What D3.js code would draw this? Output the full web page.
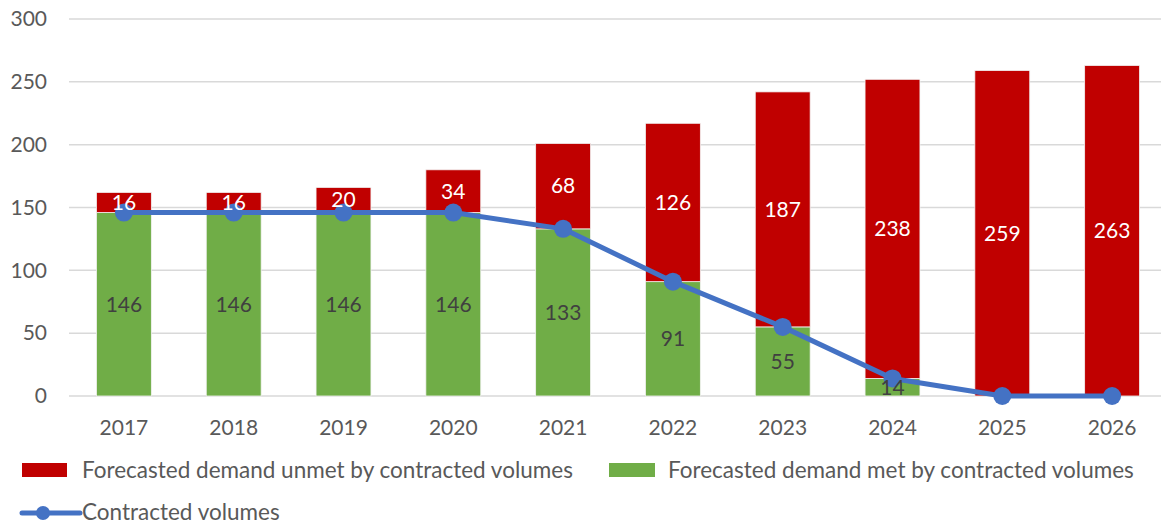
<!DOCTYPE html>
<html>
<head>
<meta charset="utf-8">
<script src="https://cdn.jsdelivr.net/npm/d3@7"></script>
<style>
  body { margin: 0; background: #fff; }
  svg { display: block; font-family: Lato, "Open Sans", sans-serif; }
</style>
</head>
<body>
<div id="chart"></div>
<script>
const years = ["2017", "2018", "2019", "2020", "2021", "2022", "2023", "2024", "2025", "2026"];
const demandMet = [146, 146, 146, 146, 133, 91, 55, 14, 0, 0];
const demandUnmet = [16, 16, 20, 34, 68, 126, 187, 238, 259, 263];
const contracted = [146, 146, 146, 146, 133, 91, 55, 14, 0, 0];
const yTicks = [0, 50, 100, 150, 200, 250, 300];

const width = 1161, height = 525;
const textColor = "#595959";
const red = "#C00000", green = "#70AD47", blue = "#4472C4";

const svg = d3.select("#chart").append("svg")
    .attr("width", width)
    .attr("height", height);

const x = d3.scaleBand().domain(years).range([69, 1167]).paddingInner(0.5).paddingOuter(0.25);
const y = d3.scaleLinear().domain([0, 300]).range([396, 19]);

// Grid
svg.append("g")
    .selectAll("line")
    .data(yTicks)
    .join("line")
    .attr("x1", 69).attr("x2", width)
    .attr("y1", d => y(d)).attr("y2", d => y(d))
    .attr("stroke", "#d9d9d9")
    .attr("stroke-width", 1.5);

// Y axis labels
const yAxis = d3.axisLeft(y).tickValues(yTicks).tickSize(0).tickPadding(0);
svg.append("g")
    .attr("transform", "translate(47,0)")
    .call(yAxis)
    .call(g => g.select(".domain").remove())
    .selectAll("text")
    .attr("fill", textColor)
    .style("font-size", "21px")
    .style("font-family", "Lato, 'Open Sans', sans-serif");

// X axis labels
const xAxis = d3.axisBottom(x).tickSize(0).tickPadding(0);
svg.append("g")
    .attr("transform", "translate(0,420)")
    .call(xAxis)
    .call(g => g.select(".domain").remove())
    .selectAll("text")
    .attr("fill", textColor)
    .style("font-size", "21px")
    .style("font-family", "Lato, 'Open Sans', sans-serif");

// Stacked bars
const rows = years.map((yr, i) => ({ year: yr, met: demandMet[i], unmet: demandUnmet[i] }));
const stack = d3.stack().keys(["met", "unmet"])(rows);
const colors = { met: green, unmet: red };

svg.append("g")
    .selectAll("g")
    .data(stack)
    .join("g")
    .attr("fill", d => colors[d.key])
    .selectAll("rect")
    .data(d => d)
    .join("rect")
    .attr("x", d => x(d.data.year))
    .attr("width", x.bandwidth())
    .attr("y", d => y(d[1]))
    .attr("height", d => y(d[0]) - y(d[1]))
    .attr("stroke", "#f2f2f2")
    .attr("stroke-width", d => d[1] > d[0] ? 0.8 : 0);

// Line
const line = d3.line()
    .x((d, i) => x(years[i]) + x.bandwidth() / 2)
    .y(d => y(d));

svg.append("path")
    .datum(contracted)
    .attr("d", line)
    .attr("fill", "none")
    .attr("stroke", blue)
    .attr("stroke-width", 5)
    .attr("stroke-linejoin", "round");

svg.append("g")
    .selectAll("circle")
    .data(contracted)
    .join("circle")
    .attr("cx", (d, i) => x(years[i]) + x.bandwidth() / 2)
    .attr("cy", d => y(d))
    .attr("r", 9)
    .attr("fill", blue);

// Data labels
const labels = svg.append("g")
    .style("font-size", "21px")
    .attr("text-anchor", "middle");

labels.selectAll("text.met")
    .data(rows.filter(d => d.met > 0))
    .join("text")
    .attr("class", "met")
    .attr("x", d => x(d.year) + x.bandwidth() / 2)
    .attr("y", d => y(d.met / 2))
    .attr("dy", "0.35em")
    .attr("fill", "#404040")
    .text(d => d.met);

labels.selectAll("text.unmet")
    .data(rows)
    .join("text")
    .attr("class", "unmet")
    .attr("x", d => x(d.year) + x.bandwidth() / 2)
    .attr("y", d => y(d.met + d.unmet / 2))
    .attr("dy", "0.35em")
    .attr("fill", "#fff")
    .text(d => d.unmet);

// Legend
const legend = svg.append("g").style("font-size", "22.5px").attr("fill", textColor);

legend.append("rect").attr("x", 22).attr("y", 463).attr("width", 45).attr("height", 14).attr("fill", red);
legend.append("text").attr("x", 82).attr("y", 470).attr("dy", "0.35em")
    .text("Forecasted demand unmet by contracted volumes");

legend.append("rect").attr("x", 609).attr("y", 463).attr("width", 46).attr("height", 14).attr("fill", green);
legend.append("text").attr("x", 668).attr("y", 470).attr("dy", "0.35em")
    .text("Forecasted demand met by contracted volumes");

legend.append("line").attr("x1", 22).attr("x2", 80).attr("y1", 513).attr("y2", 513)
    .attr("stroke", blue).attr("stroke-width", 5).attr("stroke-linecap", "round");
legend.append("circle").attr("cx", 43).attr("cy", 513).attr("r", 7).attr("fill", blue);
legend.append("text").attr("x", 82).attr("y", 513).attr("dy", "0.32em")
    .text("Contracted volumes");
</script>
</body>
</html>
